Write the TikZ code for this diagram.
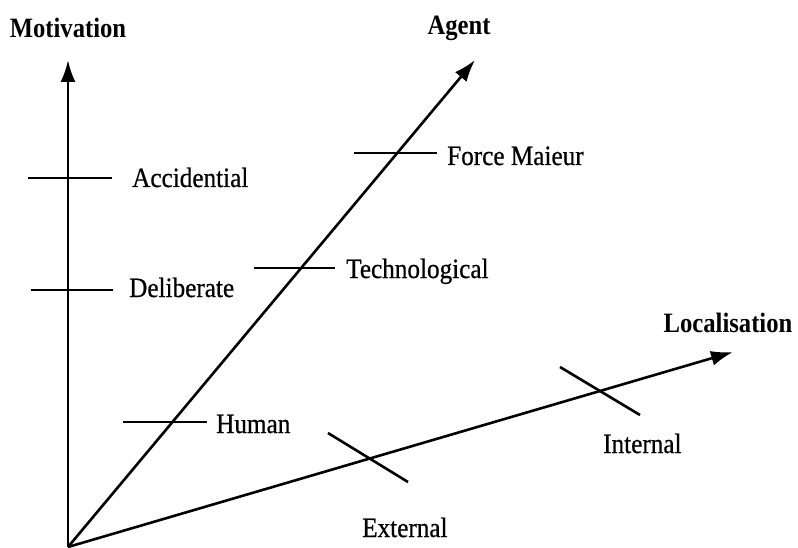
\documentclass[tikz,border=0pt]{standalone}
\usepackage{fontspec}
\setmainfont{Liberation Serif}[FakeStretch=0.9,FakeBold=0.6]
\newfontfamily\axisfont{Liberation Serif}[FakeStretch=0.88]
\usetikzlibrary{arrows.meta}

\tikzset{
  axis/.style={-{Latex[length=22pt,width=15pt]}, line width=2.6pt},
  tick/.style={line width=2.6pt},
  value/.style={anchor=base west, inner sep=0pt, font=\fontsize{28}{30}\selectfont},
  axislabel/.style={anchor=base, inner sep=0pt, font=\axisfont\bfseries\fontsize{28}{30}\selectfont}
}

\begin{document}
\begin{tikzpicture}[x=1pt,y=-1pt]
    \useasboundingbox (0,0) rectangle (798,548);

    % axes from a common origin
    \coordinate (O) at (68,547);
    \coordinate (motend) at (68,60);
    \coordinate (agend) at (475,60);
    \coordinate (locend) at (733,352);
    \draw[axis] (O) -- (motend);
    \draw[axis] (O) -- (agend);
    \draw[axis] (O) -- (locend);

    \node[axislabel] (mot) at (68,38) {Motivation};
    \node[axislabel] (agent) at (459,35) {Agent};
    \node[axislabel] (loc) at (728,332) {Localisation};

    % motivation
    \coordinate (acc1) at (28,178);  \coordinate (acc2) at (112,178);
    \coordinate (del1) at (31,290);  \coordinate (del2) at (113,290);
    \draw[tick] (acc1) -- (acc2);
    \draw[tick] (del1) -- (del2);
    \node[value] (acc) at (132,187) {Accidential};
    \node[value] (del) at (129,297) {Deliberate};

    % agent
    \coordinate (hum1) at (123,422); \coordinate (hum2) at (207,422);
    \coordinate (tec1) at (254,268); \coordinate (tec2) at (335,268);
    \coordinate (for1) at (354,153); \coordinate (for2) at (437,153);
    \draw[tick] (hum1) -- (hum2);
    \draw[tick] (tec1) -- (tec2);
    \draw[tick] (for1) -- (for2);
    \node[value] (hum) at (216,433) {Human};
    \node[value] (tec) at (346,278) {Technological};
    \node[value] (for) at (447,165) {Force Maieur};

    % localisation
    \coordinate (ext1) at (328,433); \coordinate (ext2) at (408,482);
    \coordinate (int1) at (560,367); \coordinate (int2) at (640,415);
    \draw[tick] (ext1) -- (ext2);
    \draw[tick] (int1) -- (int2);
    \node[value] (ext) at (362,537) {External};
    \node[value] (int) at (603,453) {Internal};
\end{tikzpicture}
\end{document}
